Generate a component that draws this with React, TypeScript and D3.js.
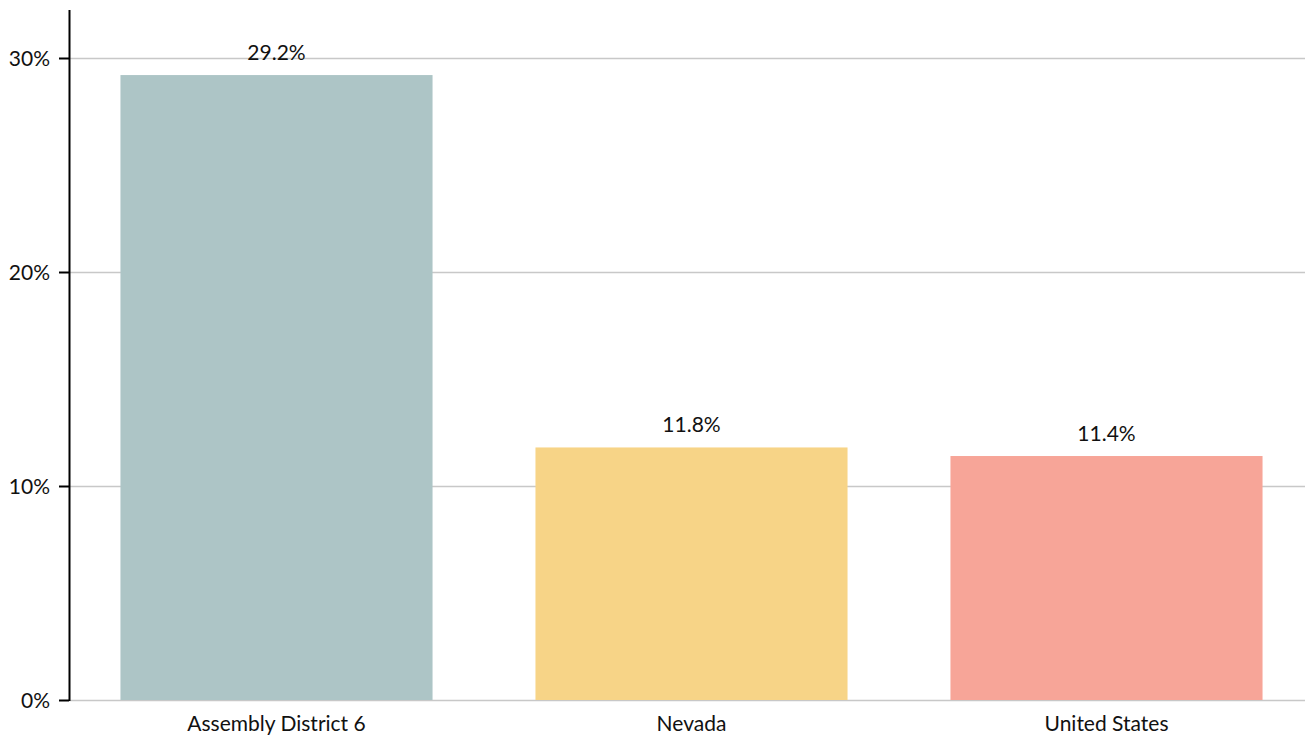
import { useEffect, useRef } from "react";
import * as d3 from "d3";

const categories = ["Assembly District 6", "Nevada", "United States"];
const values = [0.292, 0.118, 0.114];
const valueLabels = ["29.2%", "11.8%", "11.4%"];
const colors = ["#adc5c6", "#f7d487", "#f7a598"];
const yTicks = [0, 0.1, 0.2, 0.3];

export default function App() {
  const svgRef = useRef<SVGSVGElement>(null);
  const width = 1306;
  const height = 738;

  useEffect(() => {
    if (!svgRef.current) return;
    const svg = d3.select(svgRef.current);
    svg.selectAll("*").remove();

    const font = "Lato, 'Open Sans', sans-serif";
    const left = 69;
    const bottom = 700;

    const x = d3
      .scaleBand<string>()
      .domain(categories)
      .range([left, 1314])
      .paddingInner(0.248)
      .paddingOuter(0.124);

    const y = d3.scaleLinear().domain([0, 0.3224]).range([bottom, 10]);

    // Gridlines
    svg
      .append("g")
      .selectAll("line")
      .data(yTicks)
      .enter()
      .append("line")
      .attr("x1", left)
      .attr("x2", 1305)
      .attr("y1", (d) => Math.round(y(d)) + 0.5)
      .attr("y2", (d) => Math.round(y(d)) + 0.5)
      .style("stroke", "#c8c8c8")
      .style("stroke-width", "1.3px");

    // Bars
    svg
      .append("g")
      .selectAll("rect")
      .data(values)
      .enter()
      .append("rect")
      .attr("x", (d, i) => x(categories[i])!)
      .attr("width", x.bandwidth())
      .attr("y", (d) => y(d))
      .attr("height", (d) => y(0) - y(d))
      .style("fill", (d, i) => colors[i]);

    // Value labels
    svg
      .append("g")
      .selectAll("text")
      .data(values)
      .enter()
      .append("text")
      .attr("x", (d, i) => x(categories[i])! + x.bandwidth() / 2)
      .attr("y", (d) => y(d) - 15)
      .attr("text-anchor", "middle")
      .style("font-family", font)
      .style("font-size", "21px")
      .style("fill", "#111")
      .text((d, i) => valueLabels[i]);

    // Y axis line and ticks
    svg
      .append("line")
      .attr("x1", left + 0.5)
      .attr("x2", left + 0.5)
      .attr("y1", 10)
      .attr("y2", bottom + 1)
      .style("stroke", "#000")
      .style("stroke-width", "2px");

    const yAxis = svg.append("g");
    yTicks.forEach((t) => {
      const ty = Math.round(y(t)) + 0.5;
      yAxis
        .append("line")
        .attr("x1", left - 10)
        .attr("x2", left)
        .attr("y1", ty)
        .attr("y2", ty)
        .style("stroke", "#000")
        .style("stroke-width", "2px");
      yAxis
        .append("text")
        .attr("x", 50)
        .attr("y", ty)
        .attr("dy", "0.35em")
        .attr("text-anchor", "end")
        .style("font-family", font)
        .style("font-size", "21px")
        .style("fill", "#111")
        .text(d3.format(".0%")(t));
    });

    // Category labels
    svg
      .append("g")
      .selectAll("text")
      .data(categories)
      .enter()
      .append("text")
      .attr("x", (d) => x(d)! + x.bandwidth() / 2)
      .attr("y", 731)
      .attr("text-anchor", "middle")
      .style("font-family", font)
      .style("font-size", "21px")
      .style("fill", "#111")
      .text((d) => d);
  }, []);

  return (
    <svg
      ref={svgRef}
      width={width}
      height={height}
      style={{ position: "absolute", left: 0, top: 0, background: "#fff" }}
    ></svg>
  );
}
